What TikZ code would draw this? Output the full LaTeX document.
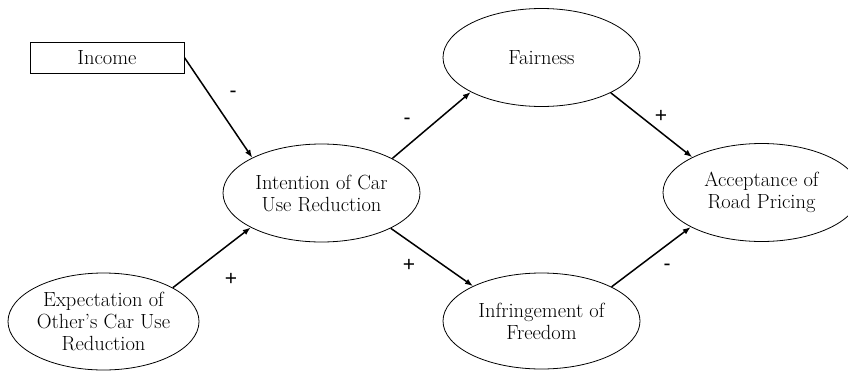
\documentclass[tikz,border=0pt]{standalone}
\usepackage{fontspec}
\newfontfamily\labfont{Liberation Sans}
\usetikzlibrary{shapes.geometric,arrows.meta}
\tikzset{
  concept/.style={ellipse,draw,line width=0.8pt,inner sep=0pt,minimum width=197pt,minimum height=98pt,align=center,font=\fontsize{20.5}{22}\selectfont},
  rectbox/.style={rectangle,draw,line width=0.8pt,inner sep=0pt,minimum width=154pt,minimum height=31pt,font=\fontsize{20.5}{22}\selectfont},
  arr/.style={line width=1.5pt,-{Latex[length=8pt,width=6pt]}},
  sign/.style={font=\labfont\fontsize{21}{21}\selectfont,inner sep=0pt}
}
\begin{document}
\begin{tikzpicture}[x=1pt,y=-1pt]
\useasboundingbox (0,0) rectangle (848,370);
\node[rectbox] (income) at (107,57.5) {Income};
\node[concept] (intent) at (321.5,193) {Intention of Car\\Use Reduction};
\node[concept,minimum width=191pt,minimum height=97pt] (expect) at (103.5,321.5) {Expectation of\\Other's Car Use\\Reduction};
\node[concept] (fair) at (541.5,57.5) {Fairness};
\node[concept,minimum height=96pt] (infr) at (541.5,321) {Infringement of\\Freedom};
\node[concept] (accept) at (761.5,192.5) {Acceptance of\\Road Pricing};
\draw[arr] (income.east) -- (intent.153.5);
\draw[arr] (expect.26.5) -- (intent.206.5);
\draw[arr] (intent.26.5) -- (fair.206.5);
\draw[arr] (intent.333.5) -- (infr.153.5);
\draw[arr] (fair.333.5) -- (accept.153.5);
\draw[arr] (infr.26.5) -- (accept.206.5);
\node[sign] (s1) at (233,94) {-};
\node[sign] (s2) at (231,279) {+};
\node[sign] (s3) at (407,121) {-};
\node[sign] (s4) at (409,265) {+};
\node[sign] (s5) at (661,116) {+};
\node[sign] (s6) at (667,267) {-};
\end{tikzpicture}
\end{document}
